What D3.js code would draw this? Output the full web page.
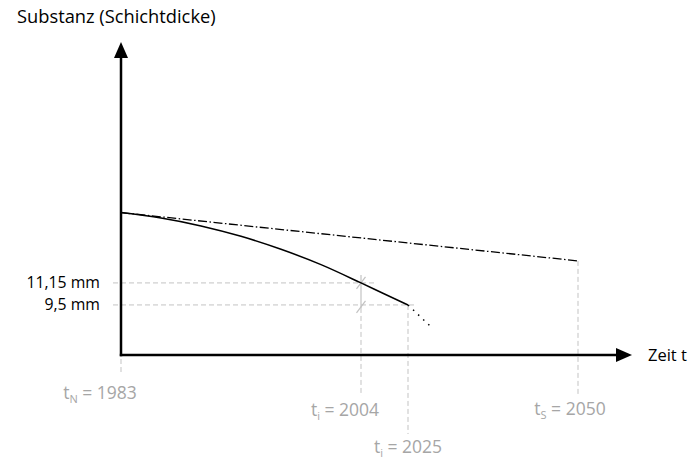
<!DOCTYPE html>
<html>
<head>
<meta charset="utf-8">
<script src="https://cdn.jsdelivr.net/npm/d3@7/dist/d3.min.js"></script>
<style>
  html, body { margin: 0; padding: 0; background: #fff; }
  svg { display: block; }
  text { font-family: "Open Sans", "Noto Sans", sans-serif; }
</style>
</head>
<body>
<svg id="chart" width="698" height="459"></svg>
<script>
// ---- data ----
const yearTicks = [1983, 2004, 2025, 2050];
const yearSubs = ["N", "i", "i", "S"];
const thicknessLevels = [11.15, 9.5];
const thicknessLabels = ["11,15 mm", "9,5 mm"];
// actual (solid) wear curve: years and layer thickness (mm)
const curveYears = [1983, 1986.5, 1990, 1993.5, 1997, 2000.5, 2004, 2014.5, 2025];
const curveMm    = [16.42, 16.01, 15.42, 14.64, 13.67, 12.52, 11.15, 10.32, 9.5];
// extrapolation (dotted)
const extraYears = [2025, 2028.4];
const extraMm    = [9.5, 7.85];
// planned (dash-dot) curve
const planYears = [1983, 2050];
const planMm    = [16.42, 12.8];
const axisTitleY = "Substanz (Schichtdicke)";
const axisTitleX = "Zeit t";

// ---- layout ----
const svg = d3.select("#chart");
// schematic (non-uniform) time axis
const x = d3.scaleLinear()
  .domain([1983, 2004, 2025, 2050, 2058])
  .range([121, 361, 408, 578, 632]);
const y = d3.scaleLinear().domain([5.75, 29.2]).range([355, 42]);

const x0 = x(1983), y0 = y(5.75);
const xEnd = x(2058), yEnd = y(29.2);
const grey = "#c3c3c3", labelGrey = "#a6a6a6";

// ---- guide lines ----
const g = svg.append("g");
thicknessLevels.forEach((v, i) => {
  const xr = i === 0 ? x(2004) + 16 : x(2025) + 7;
  g.append("line").attr("x1", x0 - 8).attr("x2", xr)
    .attr("y1", y(v)).attr("y2", y(v))
    .attr("stroke", grey).attr("stroke-width", 1).attr("stroke-dasharray", "5,3");
});
g.append("line").attr("x1", x0).attr("x2", x0).attr("y1", y0 + 4).attr("y2", y0 + 20)
  .attr("stroke", grey).attr("stroke-dasharray", "5,3");
g.append("line").attr("x1", x(2004)).attr("x2", x(2004)).attr("y1", y(11.15) - 8).attr("y2", y(9.5) + 3)
  .attr("stroke", grey).attr("stroke-width", 1.2);
g.append("line").attr("x1", x(2004)).attr("x2", x(2004)).attr("y1", y(9.5) + 3).attr("y2", 396)
  .attr("stroke", grey).attr("stroke-dasharray", "5,3");
g.append("line").attr("x1", x(2025)).attr("x2", x(2025)).attr("y1", y(9.5)).attr("y2", 434)
  .attr("stroke", grey).attr("stroke-dasharray", "5,3");
g.append("line").attr("x1", x(2050)).attr("x2", x(2050)).attr("y1", y(12.8)).attr("y2", 394)
  .attr("stroke", grey).attr("stroke-dasharray", "5,3");
thicknessLevels.forEach((v, i) => {
  const cy = y(v) + (i === 0 ? 0 : 2);
  g.append("line").attr("x1", x(2004) - 4.5).attr("x2", x(2004) + 4.5)
    .attr("y1", cy + 6).attr("y2", cy - 6)
    .attr("stroke", grey).attr("stroke-width", 1.2);
});

// ---- curves ----
const line = d3.line().x(d => x(d[0])).y(d => y(d[1])).curve(d3.curveMonotoneX);
svg.append("path")
  .datum(planYears.map((t, i) => [t, planMm[i]]))
  .attr("d", d3.line().x(d => x(d[0])).y(d => y(d[1])))
  .attr("fill", "none").attr("stroke", "#000").attr("stroke-width", 1.3)
  .attr("stroke-dasharray", "9,2.5,1.5,2.5");
svg.append("path")
  .datum(curveYears.map((t, i) => [t, curveMm[i]]))
  .attr("d", line)
  .attr("fill", "none").attr("stroke", "#000").attr("stroke-width", 1.5);
svg.append("path")
  .datum(extraYears.map((t, i) => [t, extraMm[i]]))
  .attr("d", d3.line().x(d => x(d[0])).y(d => y(d[1])))
  .attr("fill", "none").attr("stroke", "#000").attr("stroke-width", 1.5)
  .attr("stroke-dasharray", "1.5,5.5");

// ---- axes with arrows ----
svg.append("line").attr("x1", x0).attr("x2", x0).attr("y1", y0 + 1.2).attr("y2", yEnd + 14)
  .attr("stroke", "#000").attr("stroke-width", 2.5);
svg.append("line").attr("x1", x0 - 1.2).attr("x2", xEnd - 14).attr("y1", y0).attr("y2", y0)
  .attr("stroke", "#000").attr("stroke-width", 2.5);
svg.append("path")
  .attr("d", `M${x0},${yEnd} L${x0 + 7},${yEnd + 16} L${x0 - 7},${yEnd + 16} Z`)
  .attr("fill", "#000");
svg.append("path")
  .attr("d", `M${xEnd},${y0} L${xEnd - 16},${y0 - 7} L${xEnd - 16},${y0 + 7} Z`)
  .attr("fill", "#000");

// ---- text ----
svg.append("text").attr("x", 17).attr("y", 23).attr("font-size", 18.3).attr("fill", "#000")
  .text(axisTitleY);
svg.append("text").attr("x", 648).attr("y", 361).attr("font-size", 16.5).attr("fill", "#000")
  .text(axisTitleX);
thicknessLevels.forEach((v, i) => {
  svg.append("text").attr("x", 100).attr("y", y(v) + 5.5)
    .attr("text-anchor", "end").attr("font-size", 15.8).attr("fill", "#000")
    .text(thicknessLabels[i]);
});
const labelDx = [-21, -16, 0, -8];
const labelY = [399, 416, 453, 415];
yearTicks.forEach((t, i) => {
  const tx = svg.append("text")
    .attr("x", x(t) + labelDx[i]).attr("y", labelY[i])
    .attr("text-anchor", "middle").attr("font-size", 17.5).attr("fill", labelGrey);
  tx.append("tspan").text("t");
  tx.append("tspan").attr("font-size", 11).attr("dy", 3.5).text(yearSubs[i]);
  tx.append("tspan").attr("dy", -3.5).text(" = " + t);
});
</script>
</body>
</html>
